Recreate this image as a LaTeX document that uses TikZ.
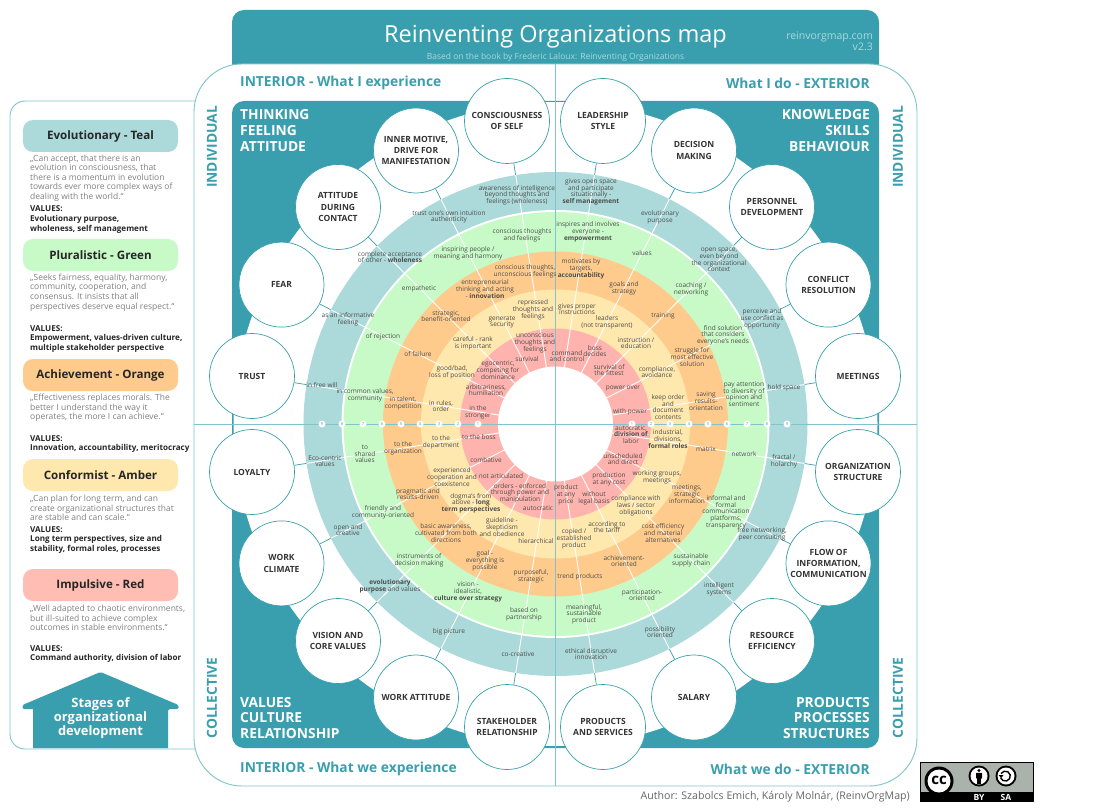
\documentclass[tikz,border=0pt]{standalone}
\usepackage{fontspec}
\setmainfont{Open Sans}
\definecolor{mapteal}{HTML}{399FAE}
\definecolor{frameline}{HTML}{7FC4CC}
\definecolor{paleteal}{HTML}{A9DADC}
\definecolor{ringteal}{HTML}{ACD9D9}
\definecolor{ringgreen}{HTML}{C8FAC8}
\definecolor{ringorange}{HTML}{FFCB8C}
\definecolor{ringamber}{HTML}{FFE8AE}
\definecolor{ringred}{HTML}{FFB3AE}
\definecolor{pillred}{HTML}{FFBDB3}
\definecolor{labelgrey}{HTML}{4C4C4C}
\definecolor{quotegrey}{HTML}{808080}
\definecolor{ccgrey}{HTML}{AAB2AB}
\tikzset{
  outcircle/.style={circle, draw=mapteal, fill=white, line width=0.7pt, minimum size=85pt, inner sep=0pt,
    align=center, text=black!80, font=\bfseries\fontsize{8.5}{11.2}\selectfont},
  ringlabel/.style={inner sep=0pt, align=center, text=labelgrey, font=\fontsize{6.5}{6.7}\selectfont},
  numdot/.style={circle, fill=white, minimum size=7pt, inner sep=0pt, text=mapteal, font=\fontsize{4}{4}\selectfont},
  tealspoke/.style={draw=mapteal, line width=0.7pt},
  whitespoke/.style={draw=white, line width=0.9pt},
  crossline/.style={draw=frameline, line width=0.9pt},
  sidehead/.style={inner sep=0pt, text=mapteal, font=\bfseries\fontsize{13.8}{15}\selectfont},
  cornerhead/.style={inner sep=0pt, text=white, font=\bfseries\fontsize{13.8}{15.6}\selectfont},
  pill/.style={rounded corners=10pt, minimum width=155pt, minimum height=32pt, inner sep=0pt,
    text=black!85, font=\bfseries\fontsize{11.6}{13}\selectfont},
  quotetext/.style={anchor=west, inner sep=0pt, align=left, text=quotegrey, font=\fontsize{8.5}{9.6}\selectfont},
  valuetext/.style={anchor=west, inner sep=0pt, align=left, text=black!85, font=\bfseries\fontsize{8.1}{9.6}\selectfont},
}
\begin{document}
\begin{tikzpicture}[x=1pt, y=-1pt]
  \useasboundingbox (0, 0) rectangle (1100, 810);
  \fill [white] (0, 0) rectangle (1100, 810);
  \coordinate (hub) at (555.5, 424);
  \fill [mapteal, rounded corners=12pt] (232, 10) rectangle (879, 90);
  \draw [frameline, fill=white, line width=0.9pt, rounded corners=15pt] (205, 101) -- (10, 101) -- (10, 749) -- (205, 749);
  \draw [frameline, fill=white, line width=0.9pt, rounded corners=48pt] (194, 64) rectangle (917, 786);
  \fill [mapteal, rounded corners=12pt] (232, 101) rectangle (879, 748);
  \fill [white] (hub) circle (322pt);

  \node [outcircle] (leadership) at (603, 121) {LEADERSHIP\\STYLE};
  \node [outcircle] (decision) at (694, 150.5) {DECISION\\MAKING};
  \node [outcircle] (personnel) at (772, 207) {PERSONNEL\\DEVELOPMENT};
  \node [outcircle] (conflict) at (828.5, 284.6) {CONFLICT\\RESOLUTION};
  \node [outcircle] (meetings) at (858, 376) {MEETINGS};
  \node [outcircle] (structure) at (858, 472) {ORGANIZATION\\STRUCTURE};
  \node [outcircle] (flow) at (828.5, 563.4) {FLOW OF\\INFORMATION,\\COMMUNICATION};
  \node [outcircle] (resource) at (772, 641) {RESOURCE\\EFFICIENCY};
  \node [outcircle] (salary) at (694, 697.5) {SALARY};
  \node [outcircle] (products) at (603, 727) {PRODUCTS\\AND SERVICES};
  \node [outcircle] (stakeholder) at (507, 727) {STAKEHOLDER\\RELATIONSHIP};
  \node [outcircle] (workattitude) at (416, 697.5) {WORK ATTITUDE};
  \node [outcircle] (vision) at (338, 641) {VISION AND\\CORE VALUES};
  \node [outcircle] (climate) at (281.5, 563.4) {WORK\\CLIMATE};
  \node [outcircle] (loyalty) at (252, 472) {LOYALTY};
  \node [outcircle] (trust) at (252, 376) {TRUST};
  \node [outcircle] (fear) at (281.5, 284.6) {FEAR};
  \node [outcircle] (attitude) at (338, 207) {ATTITUDE\\DURING\\CONTACT};
  \node [outcircle] (motive) at (416, 150.5) {INNER MOTIVE,\\DRIVE FOR\\MANIFESTATION};
  \node [outcircle] (consciousness) at (507, 121) {CONSCIOUSNESS\\OF SELF};

  \draw [tealspoke] (leadership) -- (hub) (decision) -- (hub) (personnel) -- (hub) (conflict) -- (hub)
    (meetings) -- (hub) (structure) -- (hub) (flow) -- (hub) (resource) -- (hub) (salary) -- (hub)
    (products) -- (hub) (stakeholder) -- (hub) (workattitude) -- (hub) (vision) -- (hub) (climate) -- (hub)
    (loyalty) -- (hub) (trust) -- (hub) (fear) -- (hub) (attitude) -- (hub) (motive) -- (hub) (consciousness) -- (hub);

  \fill [ringteal] (hub) circle (252pt);
  \fill [white] (hub) circle (214pt);
  \fill [ringgreen] (hub) circle (212pt);
  \fill [ringorange] (hub) circle (172.5pt);
  \fill [ringamber] (hub) circle (134.5pt);
  \fill [ringred] (hub) circle (95.5pt);
  \begin{scope}
    \clip (hub) circle (252pt);
    \draw [whitespoke] (leadership) -- (hub) (decision) -- (hub) (personnel) -- (hub) (conflict) -- (hub)
      (meetings) -- (hub) (structure) -- (hub) (flow) -- (hub) (resource) -- (hub) (salary) -- (hub)
      (products) -- (hub) (stakeholder) -- (hub) (workattitude) -- (hub) (vision) -- (hub) (climate) -- (hub)
      (loyalty) -- (hub) (trust) -- (hub) (fear) -- (hub) (attitude) -- (hub) (motive) -- (hub) (consciousness) -- (hub);
  \end{scope}
  \fill [white] (hub) circle (57.5pt);

  \coordinate (crosstop) at (555.5, 64);
  \coordinate (crossbottom) at (555.5, 786);
  \coordinate (crossleft) at (194, 424);
  \coordinate (crossright) at (917, 424);
  \draw [crossline] (crosstop) -- (crossbottom);
  \draw [crossline] (crossleft) -- (crossright);

  \node [numdot] (lnum1) at (478, 424) {1};
  \node [numdot] (lnum2) at (458, 424) {2};
  \node [numdot] (lnum3) at (439, 424) {3};
  \node [numdot] (lnum4) at (420, 424) {4};
  \node [numdot] (lnum5) at (401, 424) {5};
  \node [numdot] (lnum6) at (382, 424) {6};
  \node [numdot] (lnum7) at (363, 424) {7};
  \node [numdot] (lnum8) at (342, 424) {8};
  \node [numdot] (lnum9) at (322, 424) {9};
  \node [numdot] (rnum1) at (632, 424) {1};
  \node [numdot] (rnum2) at (651, 424) {2};
  \node [numdot] (rnum3) at (670, 424) {3};
  \node [numdot] (rnum4) at (689, 424) {4};
  \node [numdot] (rnum5) at (708, 424) {5};
  \node [numdot] (rnum6) at (727, 424) {6};
  \node [numdot] (rnum7) at (747, 424) {7};
  \node [numdot] (rnum8) at (767, 424) {8};
  \node [numdot] (rnum9) at (787, 424) {9};

  \node [ringlabel] (t9) at (517, 195) {awareness of intelligence\\beyond thoughts and\\feelings (wholeness)};
  \node [ringlabel] (s9) at (449, 217) {trust one's own intuition\\authenticity};
  \node [ringlabel] (r9) at (390, 257) {complete acceptance\\of other - \textbf{wholeness}};
  \node [ringlabel] (q9) at (348, 319) {as an informative\\feeling};
  \node [ringlabel] (p9) at (322, 385) {in free will};
  \node [ringlabel] (t8) at (522, 235) {conscious thoughts\\and feelings};
  \node [ringlabel] (s8) at (468, 253) {inspiring people /\\meaning and harmony};
  \node [ringlabel] (r8) at (419, 289) {empathetic};
  \node [ringlabel] (q8) at (383, 337) {of rejection};
  \node [ringlabel] (p8) at (365, 395) {in common values,\\community};
  \node [ringlabel] (t7) at (525, 271) {conscious thoughts,\\unconscious feelings};
  \node [ringlabel] (s7) at (485, 289) {entrepreneurial\\thinking and acting\\- \textbf{innovation}};
  \node [ringlabel] (r7) at (446, 316) {strategic,\\benefit-oriented};
  \node [ringlabel] (q7) at (418, 354) {of failure};
  \node [ringlabel] (p7) at (403, 403) {in talent,\\competition};
  \node [ringlabel] (t6) at (533, 310) {repressed\\thoughts and\\feelings};
  \node [ringlabel] (s6) at (502, 322) {generate\\security};
  \node [ringlabel] (r6) at (473, 343) {careful - rank\\is important};
  \node [ringlabel] (q6) at (452, 372) {good/bad,\\loss of position};
  \node [ringlabel] (p6) at (441, 406) {in rules,\\order};
  \node [ringlabel] (t5) at (535, 343) {unconscious\\thoughts and\\feelings};
  \node [ringlabel] (s5) at (527, 359) {survival};
  \node [ringlabel] (r5) at (498, 370) {egocentric,\\competing for\\dominance};
  \node [ringlabel] (q5) at (486, 390) {arbitrariness,\\humiliation};
  \node [ringlabel] (p5) at (478, 412) {in the\\stronger};

  \node [ringlabel] (a9) at (591, 192) {gives open space\\and participate\\situationally -\\\textbf{self management}};
  \node [ringlabel] (b9) at (660, 217) {evolutionary\\purpose};
  \node [ringlabel] (c9) at (719, 260) {open space,\\even beyond\\the organizational\\context};
  \node [ringlabel] (d9) at (762, 319) {perceive and\\use conflict as\\opportunity};
  \node [ringlabel] (e9) at (784, 388) {hold space};
  \node [ringlabel] (a8) at (588, 232) {inspires and involves\\everyone -\\\textbf{empowerment}};
  \node [ringlabel] (b8) at (642, 253) {values};
  \node [ringlabel] (c8) at (691, 289) {coaching /\\networking};
  \node [ringlabel] (d8) at (723, 335) {find solution\\that considers\\everyone's needs};
  \node [ringlabel] (e8) at (744, 394) {pay attention\\to diversity of\\opinion and\\sentiment};
  \node [ringlabel] (a7) at (581, 269) {motivates by\\targets,\\\textbf{accountability}};
  \node [ringlabel] (b7) at (624, 288) {goals and\\strategy};
  \node [ringlabel] (c7) at (663, 316) {training};
  \node [ringlabel] (d7) at (692, 357) {struggle for\\most effective\\solution};
  \node [ringlabel] (e7) at (706, 401) {saving\\results-\\orientation};
  \node [ringlabel] (a6) at (577, 309) {gives proper\\instructions};
  \node [ringlabel] (b6) at (607, 322) {leaders\\(not transparent)};
  \node [ringlabel] (c6) at (636, 343) {instruction /\\education};
  \node [ringlabel] (d6) at (657, 372) {compliance,\\avoidance};
  \node [ringlabel] (e6) at (668, 407) {keep order\\and\\document\\contents};
  \node [ringlabel] (a5) at (567, 356) {command\\and control};
  \node [ringlabel] (b5) at (595, 351) {boss\\decides};
  \node [ringlabel] (c5) at (609, 370) {survival of\\the fittest};
  \node [ringlabel] (d5) at (623, 389) {power over};
  \node [ringlabel] (e5) at (630, 412) {with power};

  \node [ringlabel] (f5) at (631, 434.5) {autocratic,\\\textbf{division of}\\labor};
  \node [ringlabel] (g5) at (623, 459) {unscheduled\\and direct};
  \node [ringlabel] (h5) at (609, 479) {production\\at any cost};
  \node [ringlabel] (i5) at (594, 498) {without\\legal basis};
  \node [ringlabel] (j5) at (566, 495) {product\\at any\\price};
  \node [ringlabel] (f6) at (668, 439) {industrial,\\divisions,\\\textbf{formal roles}};
  \node [ringlabel] (g6) at (657, 477) {working groups,\\meetings};
  \node [ringlabel] (h6) at (636, 506) {compliance with\\laws / sector\\obligations};
  \node [ringlabel] (i6) at (607, 527) {according to\\the tariff};
  \node [ringlabel] (j6) at (574, 539) {copied /\\established\\product};
  \node [ringlabel] (f7) at (706, 449) {matrix};
  \node [ringlabel] (g7) at (687, 494) {meetings,\\strategic\\information};
  \node [ringlabel] (h7) at (663, 533) {cost efficiency\\and material\\alternatives};
  \node [ringlabel] (i7) at (624, 561) {achievement-\\oriented};
  \node [ringlabel] (j7) at (580, 577) {trend products};
  \node [ringlabel] (f8) at (744, 454) {network};
  \node [ringlabel] (g8) at (726, 512) {informal and\\formal\\communication\\platforms,\\transparency};
  \node [ringlabel] (h8) at (691, 560) {sustainable\\supply chain};
  \node [ringlabel] (i8) at (642, 595) {participation-\\oriented};
  \node [ringlabel] (j8) at (584, 614) {meaningful,\\sustainable\\product};
  \node [ringlabel] (f9) at (784, 461) {fractal /\\holarchy};
  \node [ringlabel] (g9) at (762, 534) {free networking,\\peer consulting};
  \node [ringlabel] (h9) at (719, 589) {intelligent\\systems};
  \node [ringlabel] (i9) at (660, 632) {possibility\\oriented};
  \node [ringlabel] (j9) at (591, 654) {ethical disruptive\\innovation};

  \node [ringlabel] (o5) at (479, 437) {to the boss};
  \node [ringlabel] (n5) at (486, 460) {combative};
  \node [ringlabel] (m5) at (501, 476) {not articulated};
  \node [ringlabel] (l5) at (520, 493) {orders - enforced\\through power and\\manipulation};
  \node [ringlabel] (k5) at (538, 508) {autocratic};
  \node [ringlabel] (o6) at (441, 442) {to the\\department};
  \node [ringlabel] (n6) at (452, 477) {experienced\\cooperation and\\coexistence};
  \node [ringlabel] (m6) at (471, 503) {dogma's from\\above - \textbf{long}\\\textbf{term perspectives}};
  \node [ringlabel] (l6) at (502, 527) {guideline -\\skepticism\\and obedience};
  \node [ringlabel] (k6) at (536, 541) {hierarchical};
  \node [ringlabel] (o7) at (403, 448) {to the\\organization};
  \node [ringlabel] (n7) at (418, 494) {pragmatic and\\results-driven};
  \node [ringlabel] (m7) at (446, 533) {basic awareness,\\cultivated from both\\directions};
  \node [ringlabel] (l7) at (485, 561) {goal -\\everything is\\possible};
  \node [ringlabel] (k7) at (531, 576) {purposeful,\\strategic};
  \node [ringlabel] (o8) at (365, 454) {to\\shared\\values};
  \node [ringlabel] (n8) at (383, 512) {friendly and\\community-oriented};
  \node [ringlabel] (m8) at (419, 560) {instruments of\\decision making};
  \node [ringlabel] (l8) at (468, 592) {vision -\\idealistic,\\\textbf{culture over strategy}};
  \node [ringlabel] (k8) at (524, 614) {based on\\partnership};
  \node [ringlabel] (o9) at (325, 461) {Eco-centric\\values};
  \node [ringlabel] (n9) at (348, 530) {open and\\creative};
  \node [ringlabel] (m9) at (390, 586) {\textbf{evolutionary}\\\textbf{purpose} and values};
  \node [ringlabel] (l9) at (449, 632) {big picture};
  \node [ringlabel] (k9) at (518, 654) {co-creative};

  \node [inner sep=0pt, text=white, font=\fontsize{23.5}{28}\selectfont] (title) at (555.5, 37) {Reinventing Organizations map};
  \node [inner sep=0pt, text=paleteal, font=\fontsize{8.5}{10}\selectfont] (subtitle) at (555.5, 57) {Based on the book by Frederic Laloux: Reinventing Organizations};
  \node [anchor=east, inner sep=0pt, align=right, text=paleteal, font=\fontsize{10.5}{11}\selectfont] (site) at (873, 41.5) {reinvorgmap.com\\v2.3};

  \node [sidehead, anchor=west] (intI) at (240, 83) {INTERIOR - What I experience};
  \node [sidehead, anchor=east] (extI) at (870, 83) {What I do - EXTERIOR};
  \node [sidehead, anchor=west] (intwe) at (240, 769) {INTERIOR - What we experience};
  \node [sidehead, anchor=east] (extwe) at (870, 769) {What we do - EXTERIOR};
  \node [sidehead, rotate=90] (indleft) at (212, 147) {INDIVIDUAL};
  \node [sidehead, rotate=90] (indright) at (898, 147) {INDIVIDUAL};
  \node [sidehead, rotate=90] (colleft) at (212, 698) {COLLECTIVE};
  \node [sidehead, rotate=90] (colright) at (898, 698) {COLLECTIVE};

  \node [cornerhead, anchor=west, align=left] (thinking) at (240, 130.5) {THINKING\\FEELING\\ATTITUDE};
  \node [cornerhead, anchor=east, align=right] (knowledge) at (870, 130.5) {KNOWLEDGE\\SKILLS\\BEHAVIOUR};
  \node [cornerhead, anchor=west, align=left] (values) at (240, 718) {VALUES\\CULTURE\\RELATIONSHIP};
  \node [cornerhead, anchor=east, align=right] (processes) at (870, 718) {PRODUCTS\\PROCESSES\\STRUCTURES};

  \node [pill, fill=ringteal] (evolutionary) at (100.5, 136) {Evolutionary - Teal};
  \node [quotetext] (evoquote) at (30, 178) {„Can accept, that there is an\\evolution in consciousness, that\\there is a momentum in evolution\\towards ever more complex ways of\\dealing with the world.“};
  \node [valuetext] (evovalues) at (30, 219.5) {VALUES:\\Evolutionary purpose,\\wholeness, self management};
  \node [pill, fill=ringgreen] (pluralistic) at (100.5, 255) {Pluralistic - Green};
  \node [quotetext] (pluquote) at (30, 292.5) {„Seeks fairness, equality, harmony,\\community, cooperation, and\\consensus. It insists that all\\perspectives deserve equal respect.“};
  \node [valuetext] (pluvalues) at (30, 339) {VALUES:\\Empowerment, values-driven culture,\\multiple stakeholder perspective};
  \node [pill, fill=ringorange] (achievement) at (100.5, 375) {Achievement - Orange};
  \node [quotetext] (achquote) at (30, 408) {„Effectiveness replaces morals. The\\better I understand the way it\\operates, the more I can achieve.“};
  \node [valuetext] (achvalues) at (30, 444) {VALUES:\\Innovation, accountability, meritocracy};
  \node [pill, fill=ringamber] (conformist) at (100.5, 475) {Conformist - Amber};
  \node [quotetext] (conquote) at (30, 508) {„Can plan for long term, and can\\create organizational structures that\\are stable and can scale.“};
  \node [valuetext] (convalues) at (30, 540) {VALUES:\\Long term perspectives, size and\\stability, formal roles, processes};
  \node [pill, fill=pillred] (impulsive) at (100.5, 585) {Impulsive - Red};
  \node [quotetext] (impquote) at (30, 618) {„Well adapted to chaotic environments,\\but ill-suited to achieve complex\\outcomes in stable environments.“};
  \node [valuetext] (impvalues) at (30, 654) {VALUES:\\Command authority, division of labor};

  \fill [mapteal, rounded corners=1.5pt] (100.5, 672) -- (178.5, 705) -- (178.5, 709) -- (168, 709) [sharp corners]
    -- (168, 748) -- (33, 748) -- (33, 709) [rounded corners=1.5pt] -- (22.5, 709) -- (22.5, 705) -- cycle;
  \node [inner sep=0pt, align=center, text=white, font=\bfseries\fontsize{12.9}{14.3}\selectfont] (stages) at (100.5, 718) {Stages of\\organizational\\development};

  \node [anchor=east, inner sep=0pt, text=black!60, font=\fontsize{10.6}{12}\selectfont] (credit) at (910, 797) {Author: Szabolcs Emich, Károly Molnár, (ReinvOrgMap)};

  \fill [ccgrey] (920, 762) rectangle (1033, 802);
  \fill [black] (920, 792) rectangle (1033, 802);
  \draw [black, line width=0.6pt] (920, 802) -- (920, 762) -- (1033, 762) -- (1033, 802);
  \fill [black] (939, 781) circle (14.5pt);
  \fill [white] (939, 781) circle (11.5pt);
  \node [inner sep=0pt, font=\bfseries\fontsize{15}{15}\selectfont] (cclogo) at (939, 780) {cc};
  \fill [black] (979, 776) circle (10.5pt);
  \fill [white] (979, 776) circle (8.5pt);
  \fill [black] (979, 770.5) circle (1.6pt);
  \fill [black, rounded corners=0.5pt] (976, 772.8) rectangle (982, 778.5);
  \fill [black] (977.3, 778) rectangle (980.7, 783.5);
  \fill [black] (1006, 776) circle (10.5pt);
  \fill [white] (1006, 776) circle (8.5pt);
  \draw [black, line width=1.4pt] (1001, 773.6) arc [start angle=150, end angle=-160, radius=5pt];
  \fill [black] (998.6, 775) -- (1003.6, 775) -- (1001, 778) -- cycle;
  \node [inner sep=0pt, text=white, font=\bfseries\fontsize{8.5}{9}\selectfont] (bytext) at (979, 797) {BY};
  \node [inner sep=0pt, text=white, font=\bfseries\fontsize{8.5}{9}\selectfont] (satext) at (1006, 797) {SA};
\end{tikzpicture}
\end{document}
